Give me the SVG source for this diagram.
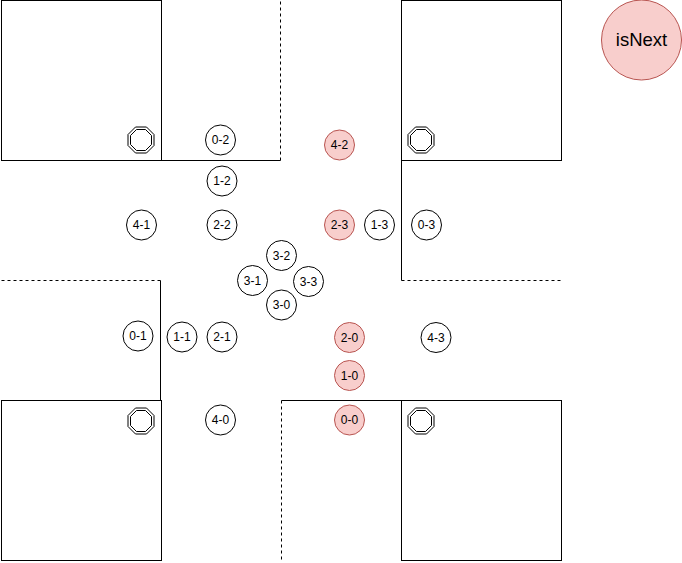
<svg xmlns="http://www.w3.org/2000/svg" width="682" height="563" viewBox="0 0 682 563">
<defs>
<style>
.b{fill:#fff;stroke:#000;stroke-width:1}
.l{fill:none;stroke:#000;stroke-width:1}
.d{fill:none;stroke:#000;stroke-width:1;stroke-dasharray:3 3}
.n circle{fill:#fff;stroke:#000;stroke-width:1}
.r circle{fill:#f8cecc;stroke:#b85450;stroke-width:1}
text{font-family:"Liberation Sans",Arial,sans-serif;font-size:12px;text-anchor:middle;fill:#000}
.o{fill:none;stroke:#000;stroke-width:1}
</style>
<g id="stop"><polygon class="o" points="-5.5,-13 5.5,-13 13,-5.5 13,5.5 5.5,13 -5.5,13 -13,5.5 -13,-5.5"/><polygon class="o" points="-4.5,-10.5 4.5,-10.5 10.5,-4.5 10.5,4.5 4.5,10.5 -4.5,10.5 -10.5,4.5 -10.5,-4.5"/></g>
</defs>
<g id="blocks">
<rect class="b" x="1.500" y="0.500" width="160" height="160"/>
<rect class="b" x="401.500" y="0.500" width="160" height="160"/>
<rect class="b" x="1.500" y="400.500" width="160" height="160"/>
<rect class="b" x="401.500" y="400.500" width="160" height="160"/>
</g>
<g id="connectors">
<path class="l" d="M161.500 160.500H280.500"/>
<path class="d" d="M280.500 160.500V0"/>
<path class="l" d="M401.500 160.500V280.500"/>
<path class="d" d="M401.500 280.500H562"/>
<path class="l" d="M160.500 400.500V280.500"/>
<path class="d" d="M160.500 280.500H0"/>
<path class="l" d="M281.500 400.500H401.500"/>
<path class="d" d="M281.500 400.500V561"/>
</g>
<g id="stops">
<use href="#stop" x="141" y="140"/>
<use href="#stop" x="421" y="140"/>
<use href="#stop" x="141" y="421"/>
<use href="#stop" x="421" y="421"/>
</g>
<g id="n0-2" class="n"><circle cx="220.500" cy="140" r="15"/><text x="220.500" y="144">0-2</text></g>
<g id="n1-2" class="n"><circle cx="222" cy="181" r="15"/><text x="222" y="185">1-2</text></g>
<g id="n4-1" class="n"><circle cx="141.500" cy="225" r="15"/><text x="141.500" y="229">4-1</text></g>
<g id="n2-2" class="n"><circle cx="222" cy="225" r="15"/><text x="222" y="229">2-2</text></g>
<g id="n4-2" class="r"><circle cx="339.500" cy="145" r="15"/><text x="339.500" y="149">4-2</text></g>
<g id="n2-3" class="r"><circle cx="339.500" cy="225" r="15"/><text x="339.500" y="229">2-3</text></g>
<g id="n1-3" class="n"><circle cx="379.500" cy="225" r="15"/><text x="379.500" y="229">1-3</text></g>
<g id="n0-3" class="n"><circle cx="426.500" cy="225" r="15"/><text x="426.500" y="229">0-3</text></g>
<g id="n3-2" class="n"><circle cx="281.500" cy="255.500" r="15"/><text x="281.500" y="259.500">3-2</text></g>
<g id="n3-1" class="n"><circle cx="252.500" cy="280.500" r="15"/><text x="252.500" y="284.500">3-1</text></g>
<g id="n3-3" class="n"><circle cx="308.500" cy="281.500" r="15"/><text x="308.500" y="285.500">3-3</text></g>
<g id="n3-0" class="n"><circle cx="281.500" cy="305" r="15"/><text x="281.500" y="309">3-0</text></g>
<g id="n0-1" class="n"><circle cx="138" cy="336" r="15"/><text x="138" y="340">0-1</text></g>
<g id="n1-1" class="n"><circle cx="182" cy="337" r="15"/><text x="182" y="341">1-1</text></g>
<g id="n2-1" class="n"><circle cx="222" cy="337" r="15"/><text x="222" y="341">2-1</text></g>
<g id="n2-0" class="r"><circle cx="349.500" cy="337.500" r="15"/><text x="349.500" y="341.500">2-0</text></g>
<g id="n4-3" class="n"><circle cx="436" cy="337.500" r="15"/><text x="436" y="341.500">4-3</text></g>
<g id="n1-0" class="r"><circle cx="349.500" cy="375.500" r="15"/><text x="349.500" y="379.500">1-0</text></g>
<g id="n4-0" class="n"><circle cx="220.500" cy="420" r="15"/><text x="220.500" y="424">4-0</text></g>
<g id="n0-0" class="r"><circle cx="349.500" cy="420" r="15"/><text x="349.500" y="424">0-0</text></g>
<g id="isNext" class="r"><circle cx="641.500" cy="40" r="40"/><text x="641.500" y="46" style="font-size:18.500px">isNext</text></g>
</svg>
